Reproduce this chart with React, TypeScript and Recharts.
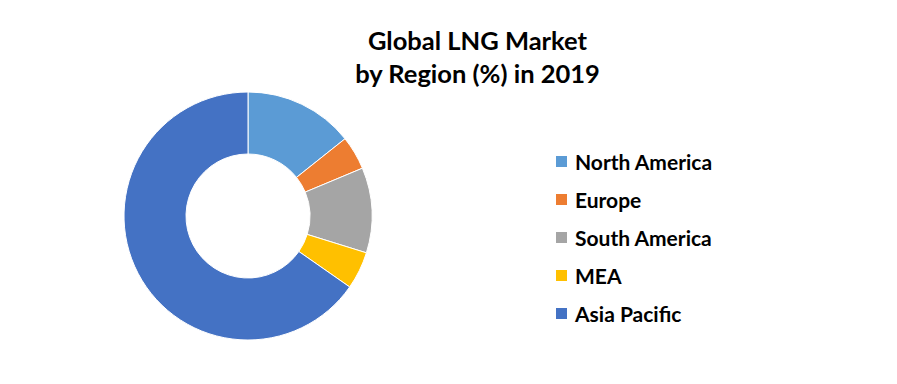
import { PieChart, Pie, Cell, Legend } from 'recharts';

const regions = ['North America', 'Europe', 'South America', 'MEA', 'Asia Pacific'];
const shares = [14.3, 4.4, 11.1, 4.9, 65.3];
const colors = ['#5B9BD5', '#ED7D31', '#A5A5A5', '#FFC000', '#4472C4'];

const data = regions.map((name, i) => ({ name, value: shares[i] }));

const font = 'Lato, "Open Sans", sans-serif';

function LegendList() {
  return (
    <div style={{ fontFamily: font, fontWeight: 700, fontSize: 21, color: '#000' }}>
      {regions.map((r, i) => (
        <div key={r} style={{ display: 'flex', alignItems: 'center', height: 37.8 }}>
          <span style={{ width: 11, height: 11, flex: 'none', background: colors[i], marginRight: 8, display: 'inline-block' }} />
          <span>{r}</span>
        </div>
      ))}
    </div>
  );
}

export default function App() {
  return (
    <div style={{ position: 'absolute', left: 0, top: 0, width: 897, height: 384, background: '#fff' }}>
      <div
        style={{
          position: 'absolute',
          left: 0,
          width: 955,
          top: 24,
          textAlign: 'center',
          fontFamily: font,
          fontWeight: 700,
          fontSize: 25.5,
          lineHeight: '33px',
          color: '#000',
        }}
      >
        Global LNG Market
        <br />
        by Region (%) in 2019
      </div>
      <PieChart width={897} height={384} margin={{ top: 0, right: 0, bottom: 0, left: 0 }}>
        <Pie
          data={data}
          dataKey="value"
          nameKey="name"
          cx={248}
          cy={216}
          innerRadius={62}
          outerRadius={124}
          startAngle={90}
          endAngle={-270}
          stroke="#fff"
          strokeWidth={1}
          isAnimationActive={false}
        >
          {data.map((d, i) => (
            <Cell key={d.name} fill={colors[i]} />
          ))}
        </Pie>
        <Legend
          layout="vertical"
          verticalAlign="top"
          align="right"
          content={() => <LegendList />}
          wrapperStyle={{ left: 556, top: 143, width: 250, right: 'auto' }}
        />
      </PieChart>
    </div>
  );
}
